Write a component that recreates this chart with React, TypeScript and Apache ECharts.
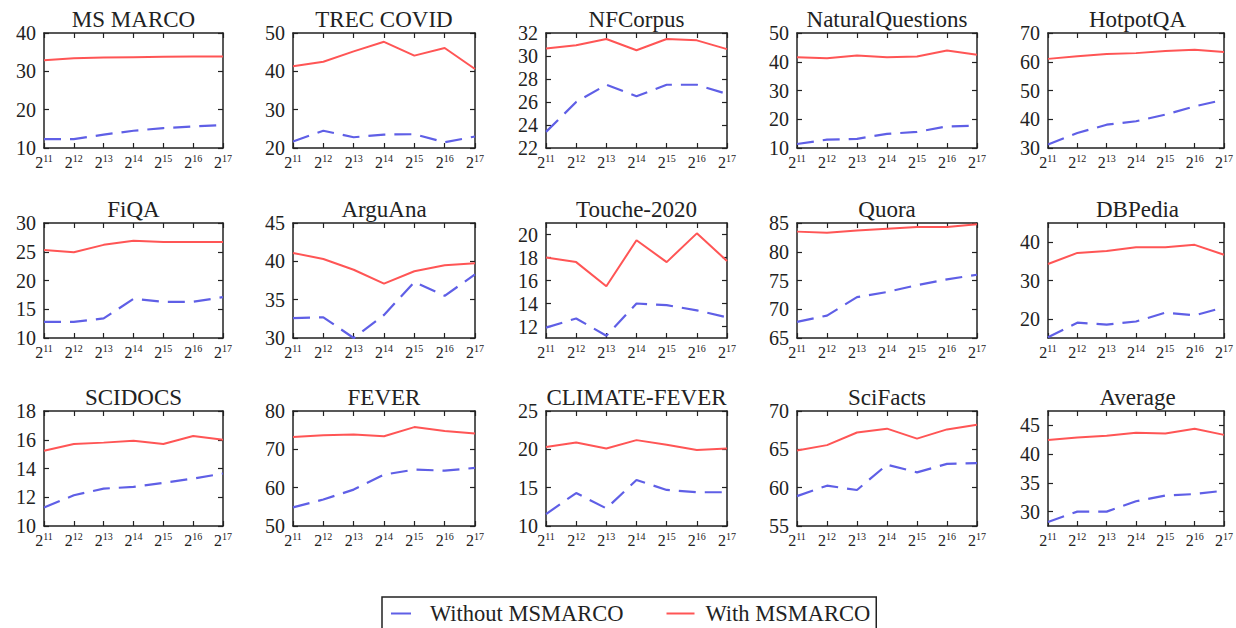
import React, { useEffect, useRef } from "react";
import * as echarts from "echarts";

const FONT = "Liberation Serif";
const TEXT_COLOR = "#222";
const RED = "#ff5555";
const BLUE = "#5f5fe6";

const exponents = [11, 12, 13, 14, 15, 16, 17];
const xCategories = exponents.map((e) => `2^${e}`);
const seriesNames = ["Without MSMARCO", "With MSMARCO"];

// Values
const msMarcoWithout = [12.3, 12.3, 13.5, 14.5, 15.2, 15.6, 16.0];
const msMarcoWith = [32.9, 33.4, 33.6, 33.7, 33.8, 33.9, 33.9];
const trecCovidWithout = [21.7, 24.5, 22.8, 23.5, 23.6, 21.5, 23.0];
const trecCovidWith = [41.3, 42.5, 45.2, 47.7, 44.1, 46.1, 40.6];
const nfCorpusWithout = [23.4, 26.0, 27.5, 26.5, 27.5, 27.5, 26.7];
const nfCorpusWith = [30.65, 30.93, 31.48, 30.5, 31.48, 31.36, 30.6];
const nqWithout = [11.4, 12.9, 13.2, 14.9, 15.6, 17.5, 17.8];
const nqWith = [41.6, 41.2, 42.2, 41.6, 41.8, 43.9, 42.4];
const hotpotWithout = [31.2, 35.2, 38.1, 39.3, 41.6, 44.5, 46.8];
const hotpotWith = [61.0, 61.9, 62.7, 63.0, 63.7, 64.2, 63.4];
const fiqaWithout = [12.8, 12.8, 13.4, 16.8, 16.3, 16.3, 17.1];
const fiqaWith = [25.3, 24.9, 26.2, 26.9, 26.7, 26.7, 26.7];
const arguAnaWithout = [32.6, 32.7, 30.0, 33.0, 37.3, 35.5, 38.3];
const arguAnaWith = [41.1, 40.3, 38.9, 37.1, 38.7, 39.5, 39.75];
const toucheWithout = [11.9, 12.7, 11.2, 14.0, 13.86, 13.4, 12.8];
const toucheWith = [18.0, 17.6, 15.5, 19.5, 17.6, 20.1, 17.7];
const quoraWithout = [67.8, 68.9, 72.1, 73.0, 74.2, 75.2, 76.0];
const quoraWith = [83.5, 83.3, 83.7, 84.0, 84.3, 84.3, 84.8];
const dbpediaWithout = [15.2, 19.0, 18.5, 19.3, 21.6, 20.9, 23.0];
const dbpediaWith = [34.3, 37.2, 37.7, 38.7, 38.7, 39.3, 36.7];
const scidocsWithout = [11.28, 12.14, 12.6, 12.72, 13.0, 13.3, 13.65];
const scidocsWith = [15.23, 15.7, 15.8, 15.93, 15.7, 16.26, 16.0];
const feverWithout = [54.85, 56.9, 59.5, 63.4, 64.7, 64.45, 65.15];
const feverWith = [73.2, 73.7, 73.9, 73.4, 75.8, 74.8, 74.1];
const climateWithout = [11.55, 14.3, 12.3, 16.0, 14.7, 14.4, 14.4];
const climateWith = [20.3, 20.9, 20.1, 21.2, 20.6, 19.9, 20.1];
const sciFactsWithout = [58.9, 60.26, 59.7, 63.0, 62.0, 63.1, 63.2];
const sciFactsWith = [64.85, 65.55, 67.2, 67.7, 66.4, 67.6, 68.2];
const averageWithout = [28.2, 30.0, 30.0, 31.8, 32.8, 33.06, 33.65];
const averageWith = [42.47, 42.9, 43.2, 43.7, 43.6, 44.4, 43.35];

// Y-axis tick labels
const ticks10to40 = [10, 20, 30, 40];
const ticks20to50 = [20, 30, 40, 50];
const ticks22to32 = [22, 24, 26, 28, 30, 32];
const ticks10to50 = [10, 20, 30, 40, 50];
const ticks30to70 = [30, 40, 50, 60, 70];
const ticks10to30 = [10, 15, 20, 25, 30];
const ticks30to45 = [30, 35, 40, 45];
const ticks12to20 = [12, 14, 16, 18, 20];
const ticks65to85 = [65, 70, 75, 80, 85];
const ticks20to40 = [20, 30, 40];
const ticks10to18 = [10, 12, 14, 16, 18];
const ticks50to80 = [50, 60, 70, 80];
const ticks10to25 = [10, 15, 20, 25];
const ticks55to70 = [55, 60, 65, 70];
const ticks30to45avg = [30, 35, 40, 45];

const panels = [
  { title: "MS MARCO", without: msMarcoWithout, with: msMarcoWith, range: [10, 40], ticks: ticks10to40 },
  { title: "TREC COVID", without: trecCovidWithout, with: trecCovidWith, range: [20, 50], ticks: ticks20to50 },
  { title: "NFCorpus", without: nfCorpusWithout, with: nfCorpusWith, range: [22, 32], ticks: ticks22to32 },
  { title: "NaturalQuestions", without: nqWithout, with: nqWith, range: [10, 50], ticks: ticks10to50 },
  { title: "HotpotQA", without: hotpotWithout, with: hotpotWith, range: [30, 70], ticks: ticks30to70 },
  { title: "FiQA", without: fiqaWithout, with: fiqaWith, range: [10, 30], ticks: ticks10to30 },
  { title: "ArguAna", without: arguAnaWithout, with: arguAnaWith, range: [30, 45], ticks: ticks30to45 },
  { title: "Touche-2020", without: toucheWithout, with: toucheWith, range: [11, 21], ticks: ticks12to20 },
  { title: "Quora", without: quoraWithout, with: quoraWith, range: [65, 85], ticks: ticks65to85 },
  { title: "DBPedia", without: dbpediaWithout, with: dbpediaWith, range: [15, 45], ticks: ticks20to40 },
  { title: "SCIDOCS", without: scidocsWithout, with: scidocsWith, range: [10, 18], ticks: ticks10to18 },
  { title: "FEVER", without: feverWithout, with: feverWith, range: [50, 80], ticks: ticks50to80 },
  { title: "CLIMATE-FEVER", without: climateWithout, with: climateWith, range: [10, 25], ticks: ticks10to25 },
  { title: "SciFacts", without: sciFactsWithout, with: sciFactsWith, range: [55, 70], ticks: ticks55to70 },
  { title: "Average", without: averageWithout, with: averageWith, range: [27.5, 47.5], ticks: ticks30to45avg },
];

const colLefts = [44, 293, 546, 797, 1048];
const colWidths = [179, 182, 181, 180, 179];
const rowTops = [33, 223, 411];
const plotHeight = 115;

function buildOption() {
  const grid: any[] = [];
  const xAxis: any[] = [];
  const yAxis: any[] = [];
  const title: any[] = [];
  const series: any[] = [];
  const axisLine = { show: true, lineStyle: { color: "#222", width: 1.5 } };
  const tickStyle = { color: "#222", width: 1.2 };

  panels.forEach((p, i) => {
    const col = i % 5;
    const row = Math.floor(i / 5);
    const left = colLefts[col];
    const width = colWidths[col];
    const top = rowTops[row];
    grid.push({ left, top, width, height: plotHeight, containLabel: false });
    title.push({
      text: p.title,
      left: left + width / 2,
      top: top - 25,
      textAlign: "center",
      padding: 0,
      textStyle: { fontFamily: FONT, fontSize: 23, fontWeight: "normal", color: TEXT_COLOR },
    });
    xAxis.push({
      type: "category",
      gridIndex: i,
      data: xCategories,
      boundaryGap: false,
      position: "bottom",
      axisLine,
      axisTick: { show: true, inside: true, length: 5, interval: 0, lineStyle: tickStyle },
      axisLabel: {
        interval: 0,
        margin: 5,
        formatter: (v: string) => `{b|2}{s|${v.split("^")[1]}}`,
        rich: {
          b: { fontFamily: FONT, fontSize: 16, color: TEXT_COLOR, lineHeight: 18 },
          s: { fontFamily: FONT, fontSize: 10, color: TEXT_COLOR, verticalAlign: "top", lineHeight: 18 },
        },
      },
      splitLine: { show: false },
    });
    xAxis.push({
      type: "category",
      gridIndex: i,
      data: xCategories,
      boundaryGap: false,
      position: "top",
      axisLine,
      axisTick: { show: true, inside: true, length: 5, interval: 0, lineStyle: tickStyle },
      axisLabel: { show: false },
      splitLine: { show: false },
    });
    yAxis.push({
      type: "value",
      gridIndex: i,
      min: p.range[0],
      max: p.range[1],
      position: "left",
      axisLine,
      axisTick: { show: true, inside: true, length: 5, lineStyle: tickStyle, customValues: p.ticks },
      axisLabel: {
        customValues: p.ticks,
        margin: 8,
        fontFamily: FONT,
        fontSize: 20,
        color: TEXT_COLOR,
      },
      splitLine: { show: false },
    });
    yAxis.push({
      type: "value",
      gridIndex: i,
      min: p.range[0],
      max: p.range[1],
      position: "right",
      axisLine,
      axisTick: { show: true, inside: true, length: 5, lineStyle: tickStyle, customValues: p.ticks },
      axisLabel: { show: false },
      splitLine: { show: false },
    });
    series.push({
      name: seriesNames[0],
      type: "line",
      xAxisIndex: 2 * i,
      yAxisIndex: 2 * i,
      data: p.without,
      symbol: "none",
      lineStyle: { color: BLUE, width: 2.2, type: [17, 9] },
      itemStyle: { color: BLUE },
      z: 2,
    });
    series.push({
      name: seriesNames[1],
      type: "line",
      xAxisIndex: 2 * i,
      yAxisIndex: 2 * i,
      data: p.with,
      symbol: "none",
      lineStyle: { color: RED, width: 2 },
      itemStyle: { color: RED },
      z: 3,
    });
  });

  return {
    animation: false,
    backgroundColor: "#fff",
    title,
    grid,
    xAxis,
    yAxis,
    series,
    legend: {
      data: [
        { name: seriesNames[0], lineStyle: { type: [20, 20] } },
        { name: seriesNames[1] },
      ],
      left: 382,
      top: 597,
      orient: "horizontal",
      itemWidth: 28,
      itemHeight: 10,
      itemGap: 42,
      padding: [5, 6, 10, 8],
      borderColor: "#222",
      borderWidth: 1.5,
      borderRadius: 0,
      backgroundColor: "#fff",
      itemStyle: { opacity: 0 },
      textStyle: { fontFamily: FONT, fontSize: 22.5, color: TEXT_COLOR, padding: [0, 0, 0, 6] },
    },
  };
}

export default function App() {
  const ref = useRef<HTMLDivElement | null>(null);
  useEffect(() => {
    document.body.style.margin = "0";
    if (!ref.current) return;
    const chart = echarts.init(ref.current, null, { renderer: "svg" });
    chart.setOption(buildOption() as any);
    return () => {
      chart.dispose();
    };
  }, []);
  return <div ref={ref} style={{ width: 1236, height: 628 }} />;
}
